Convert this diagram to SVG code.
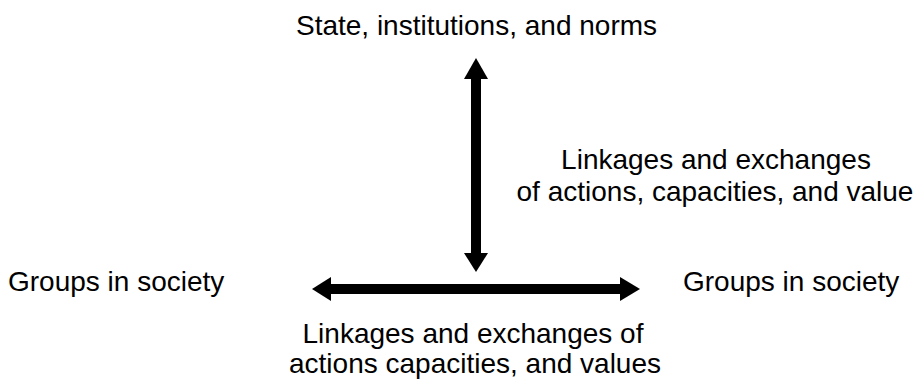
<svg xmlns="http://www.w3.org/2000/svg" width="917" height="381" viewBox="0 0 917 381">
  <style>
    text { font-family: "Liberation Sans", Arial, sans-serif; font-size: 28px; fill: #000; }
    .mid { text-anchor: middle; }
    .shaft { stroke: #000; stroke-width: 10; fill: none; }
    .head { fill: #000; }
  </style>
  <rect width="917" height="381" fill="#fff"/>

  <g id="state">
    <text class="mid" x="476.5" y="34.5">State, institutions, and norms</text>
  </g>
  <g id="groups-left">
    <text x="8" y="291">Groups in society</text>
  </g>
  <g id="groups-right">
    <text x="683" y="291">Groups in society</text>
  </g>
  <g id="vertical-label">
    <text class="mid" x="716" y="169">Linkages and exchanges</text>
    <text class="mid" x="715" y="201">of actions, capacities, and value</text>
  </g>
  <g id="horizontal-label">
    <text class="mid" x="473" y="343">Linkages and exchanges of</text>
    <text class="mid" x="475" y="373">actions capacities, and values</text>
  </g>

  <g id="connectors">
    <!-- vertical double arrow -->
    <line class="shaft" x1="476" y1="78" x2="476" y2="254"/>
    <polygon class="head" points="476,58 464,79 488,79"/>
    <polygon class="head" points="476,272 464,253 488,253"/>
    <!-- horizontal double arrow -->
    <line class="shaft" x1="328" y1="289" x2="621" y2="289"/>
    <polygon class="head" points="312,289 331,277 331,301"/>
    <polygon class="head" points="640,289 620,277 620,301"/>
  </g>
</svg>
